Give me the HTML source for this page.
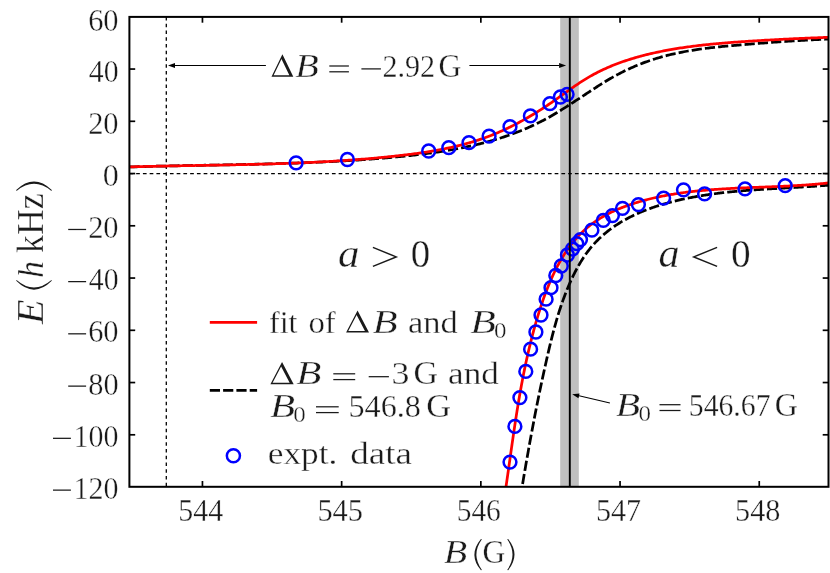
<!DOCTYPE html>
<html><head><meta charset="utf-8"><title>Feshbach resonance binding energy</title>
<style>
html,body{margin:0;padding:0;background:#fff;}
body{width:830px;height:573px;overflow:hidden;font-family:"Liberation Serif",serif;}
svg{display:block;font-family:"Liberation Serif",serif;}
</style></head><body>
<svg width="830" height="573" viewBox="0 0 830 573">
<rect x="0" y="0" width="830" height="573" fill="#ffffff"/>
<defs><clipPath id="cp"><rect x="129.40" y="16.90" width="699.10" height="469.90"/></clipPath></defs>
<rect x="560.2" y="16.90" width="18.6" height="469.90" fill="#c0c0c0"/>
<line x1="129.40" y1="173.6" x2="828.50" y2="173.6" stroke="#000" stroke-width="1.3" stroke-dasharray="3.7,3.05"/>
<line x1="166.3" y1="16.90" x2="166.3" y2="486.80" stroke="#000" stroke-width="1.3" stroke-dasharray="3.7,3.05"/>
<g clip-path="url(#cp)" fill="none" stroke-linejoin="round">
<path d="M129.47,166.98 L130.91,166.93 L132.35,166.89 L133.80,166.84 L135.24,166.80 L136.68,166.76 L138.13,166.71 L139.57,166.67 L141.01,166.63 L142.46,166.59 L143.90,166.55 L145.34,166.51 L146.79,166.47 L148.23,166.43 L149.67,166.39 L151.12,166.36 L152.56,166.32 L154.01,166.28 L155.45,166.25 L156.90,166.21 L158.34,166.18 L159.78,166.14 L161.23,166.11 L162.67,166.08 L164.12,166.04 L165.57,166.01 L167.01,165.98 L168.46,165.95 L169.90,165.91 L171.35,165.88 L172.79,165.85 L174.24,165.82 L175.68,165.79 L177.13,165.76 L178.58,165.73 L180.02,165.70 L181.47,165.67 L182.91,165.65 L184.36,165.62 L185.81,165.59 L187.25,165.56 L188.70,165.53 L190.15,165.51 L191.59,165.48 L193.04,165.45 L194.49,165.42 L195.93,165.40 L197.38,165.37 L198.83,165.34 L200.28,165.32 L201.72,165.29 L203.17,165.26 L204.62,165.24 L206.07,165.21 L207.51,165.18 L208.96,165.16 L210.41,165.13 L211.86,165.10 L213.30,165.08 L214.75,165.05 L216.20,165.02 L217.65,165.00 L219.10,164.97 L220.54,164.94 L221.99,164.92 L223.44,164.89 L224.89,164.86 L226.34,164.83 L227.79,164.81 L229.23,164.78 L230.68,164.75 L232.13,164.72 L233.58,164.69 L235.03,164.67 L236.48,164.64 L237.92,164.61 L239.37,164.58 L240.82,164.55 L242.27,164.52 L243.72,164.49 L245.17,164.46 L246.62,164.43 L248.07,164.40 L249.52,164.36 L250.96,164.33 L252.41,164.30 L253.86,164.27 L255.31,164.23 L256.76,164.20 L258.21,164.17 L259.66,164.13 L261.11,164.10 L262.56,164.06 L264.01,164.03 L265.45,163.99 L266.90,163.95 L268.35,163.92 L269.80,163.88 L271.25,163.84 L272.70,163.80 L274.15,163.76 L275.60,163.72 L277.05,163.68 L278.50,163.64 L279.95,163.60 L281.40,163.55 L282.84,163.51 L284.29,163.47 L285.74,163.42 L287.19,163.37 L288.64,163.33 L290.09,163.28 L291.54,163.23 L292.99,163.19 L294.44,163.14 L295.89,163.09 L297.34,163.04 L298.78,162.98 L300.23,162.93 L301.68,162.88 L303.13,162.82 L304.58,162.77 L306.03,162.71 L307.48,162.66 L308.93,162.60 L310.38,162.54 L311.83,162.48 L313.27,162.42 L314.72,162.36 L316.17,162.30 L317.62,162.23 L319.07,162.17 L320.52,162.10 L321.97,162.04 L323.42,161.97 L324.86,161.90 L326.31,161.83 L327.76,161.76 L329.21,161.69 L330.66,161.62 L332.11,161.54 L333.55,161.47 L335.00,161.39 L336.45,161.31 L337.90,161.24 L339.35,161.16 L340.80,161.08 L342.24,160.99 L343.69,160.91 L345.14,160.83 L346.59,160.74 L348.04,160.65 L349.48,160.56 L350.93,160.47 L352.38,160.38 L353.83,160.29 L355.27,160.20 L356.72,160.10 L358.17,160.01 L359.62,159.91 L361.06,159.81 L362.51,159.71 L363.96,159.61 L365.40,159.51 L366.85,159.40 L368.30,159.30 L369.74,159.19 L371.19,159.08 L372.64,158.97 L374.08,158.86 L375.53,158.74 L376.98,158.63 L378.42,158.51 L379.87,158.39 L381.32,158.27 L382.76,158.15 L384.21,158.03 L385.65,157.91 L387.10,157.78 L388.55,157.65 L389.99,157.52 L391.44,157.39 L392.88,157.26 L394.33,157.12 L395.77,156.99 L397.22,156.85 L398.66,156.71 L400.11,156.57 L401.55,156.43 L403.00,156.28 L404.44,156.14 L405.88,155.99 L407.33,155.83 L408.77,155.68 L410.21,155.53 L411.66,155.37 L413.10,155.21 L414.54,155.04 L415.98,154.88 L417.42,154.71 L418.86,154.54 L420.30,154.37 L421.74,154.19 L423.18,154.01 L424.62,153.83 L426.06,153.64 L427.49,153.46 L428.93,153.26 L430.37,153.07 L431.80,152.87 L433.24,152.67 L434.67,152.47 L436.10,152.26 L437.53,152.05 L438.96,151.84 L440.39,151.62 L441.82,151.40 L443.25,151.17 L444.68,150.94 L446.10,150.71 L447.53,150.47 L448.95,150.23 L450.38,149.99 L451.80,149.74 L453.22,149.48 L454.64,149.23 L456.06,148.96 L457.47,148.70 L458.89,148.43 L460.30,148.15 L461.72,147.87 L463.13,147.59 L464.54,147.30 L465.95,147.01 L467.36,146.71 L468.76,146.41 L470.17,146.10 L471.57,145.79 L472.97,145.47 L474.37,145.14 L475.77,144.82 L477.17,144.48 L478.57,144.14 L479.96,143.80 L481.35,143.45 L482.74,143.09 L484.13,142.73 L485.52,142.37 L486.91,142.00 L488.29,141.62 L489.67,141.23 L491.05,140.85 L492.43,140.45 L493.81,140.05 L495.18,139.64 L496.55,139.23 L497.92,138.81 L499.29,138.38 L500.66,137.95 L502.02,137.51 L503.39,137.07 L504.75,136.62 L506.10,136.16 L507.46,135.69 L508.81,135.22 L510.16,134.74 L511.51,134.26 L512.86,133.77 L514.21,133.27 L515.55,132.76 L516.89,132.25 L518.23,131.73 L519.56,131.20 L520.89,130.67 L522.22,130.13 L523.55,129.58 L524.88,129.02 L526.20,128.46 L527.52,127.89 L528.84,127.31 L530.15,126.72 L531.47,126.13 L532.78,125.53 L534.08,124.92 L535.39,124.30 L536.69,123.67 L537.99,123.04 L539.28,122.39 L540.58,121.74 L541.87,121.09 L543.16,120.42 L544.44,119.74 L545.72,119.06 L547.00,118.37 L548.28,117.67 L549.55,116.96 L550.82,116.24 L552.09,115.51 L553.35,114.77 L554.61,114.03 L555.87,113.28 L557.12,112.53 L558.38,111.76 L559.63,110.99 L560.88,110.22 L562.12,109.44 L563.37,108.66 L564.61,107.87 L565.85,107.09 L567.09,106.29 L568.33,105.50 L569.57,104.71 L570.80,103.91 L572.04,103.11 L573.27,102.31 L574.50,101.51 L575.73,100.71 L576.96,99.91 L578.19,99.11 L579.42,98.31 L580.65,97.50 L581.88,96.69 L583.11,95.89 L584.34,95.08 L585.57,94.27 L586.80,93.46 L588.03,92.64 L589.26,91.83 L590.49,91.02 L591.72,90.21 L592.96,89.40 L594.19,88.59 L595.43,87.79 L596.66,86.99 L597.90,86.19 L599.14,85.40 L600.38,84.61 L601.62,83.82 L602.87,83.05 L604.11,82.28 L605.36,81.51 L606.61,80.76 L607.86,80.01 L609.12,79.27 L610.37,78.54 L611.63,77.82 L612.90,77.11 L614.16,76.41 L615.43,75.71 L616.70,75.03 L617.97,74.35 L619.25,73.68 L620.52,73.02 L621.80,72.37 L623.09,71.73 L624.37,71.10 L625.66,70.47 L626.95,69.86 L628.25,69.25 L629.54,68.65 L630.84,68.06 L632.14,67.48 L633.45,66.91 L634.76,66.35 L636.07,65.79 L637.38,65.25 L638.70,64.71 L640.02,64.18 L641.34,63.66 L642.66,63.15 L643.99,62.65 L645.32,62.16 L646.66,61.67 L648.00,61.20 L649.34,60.73 L650.68,60.27 L652.03,59.82 L653.38,59.38 L654.73,58.95 L656.09,58.53 L657.45,58.11 L658.81,57.71 L660.18,57.31 L661.55,56.92 L662.92,56.54 L664.30,56.17 L665.68,55.81 L667.06,55.45 L668.44,55.11 L669.83,54.77 L671.22,54.43 L672.62,54.11 L674.01,53.79 L675.41,53.48 L676.81,53.18 L678.22,52.89 L679.63,52.60 L681.04,52.32 L682.45,52.04 L683.86,51.77 L685.28,51.51 L686.70,51.26 L688.12,51.01 L689.54,50.76 L690.97,50.52 L692.39,50.29 L693.82,50.06 L695.25,49.84 L696.69,49.63 L698.12,49.41 L699.56,49.21 L701.00,49.01 L702.44,48.81 L703.88,48.62 L705.32,48.43 L706.77,48.25 L708.21,48.07 L709.66,47.89 L711.11,47.72 L712.56,47.55 L714.01,47.39 L715.46,47.23 L716.91,47.07 L718.37,46.91 L719.82,46.76 L721.28,46.61 L722.73,46.47 L724.19,46.33 L725.65,46.18 L727.11,46.05 L728.57,45.91 L730.03,45.78 L731.49,45.64 L732.95,45.51 L734.41,45.39 L735.87,45.26 L737.33,45.13 L738.80,45.01 L740.26,44.89 L741.72,44.76 L743.18,44.64 L744.65,44.52 L746.11,44.40 L747.57,44.28 L749.03,44.16 L750.49,44.05 L751.96,43.93 L753.42,43.81 L754.88,43.70 L756.34,43.58 L757.80,43.46 L759.26,43.35 L760.72,43.24 L762.18,43.12 L763.64,43.01 L765.10,42.90 L766.56,42.79 L768.01,42.68 L769.47,42.57 L770.93,42.46 L772.38,42.36 L773.84,42.25 L775.29,42.15 L776.74,42.04 L778.20,41.94 L779.65,41.84 L781.10,41.73 L782.55,41.63 L784.00,41.54 L785.45,41.44 L786.90,41.34 L788.34,41.25 L789.79,41.15 L791.23,41.06 L792.68,40.97 L794.12,40.88 L795.56,40.79 L797.00,40.70 L798.44,40.61 L799.88,40.53 L801.31,40.44 L802.75,40.36 L804.18,40.28 L805.62,40.20 L807.05,40.12 L808.48,40.04 L809.90,39.97 L811.33,39.89 L812.76,39.82 L814.18,39.75 L815.60,39.68 L817.02,39.61 L818.44,39.55 L819.86,39.48 L821.28,39.42 L822.69,39.36 L824.10,39.30 L825.51,39.24 L826.92,39.18 L828.33,39.13" stroke="#000" stroke-width="2.75" stroke-dasharray="10.2,3.1"/>
<path d="M520.42,497.10 L520.58,496.07 L520.75,495.04 L520.92,494.01 L521.09,492.98 L521.26,491.95 L521.43,490.92 L521.60,489.89 L521.77,488.87 L521.95,487.84 L522.12,486.81 L522.29,485.79 L522.46,484.76 L522.63,483.74 L522.80,482.71 L522.97,481.69 L523.15,480.67 L523.32,479.64 L523.49,478.62 L523.67,477.60 L523.84,476.58 L524.01,475.55 L524.19,474.53 L524.36,473.51 L524.53,472.49 L524.71,471.47 L524.88,470.45 L525.06,469.43 L525.23,468.41 L525.41,467.40 L525.58,466.38 L525.76,465.36 L525.94,464.34 L526.11,463.33 L526.29,462.31 L526.47,461.29 L526.65,460.28 L526.82,459.26 L527.00,458.25 L527.18,457.23 L527.36,456.22 L527.54,455.20 L527.72,454.19 L527.90,453.17 L528.08,452.16 L528.26,451.15 L528.44,450.13 L528.62,449.12 L528.80,448.11 L528.98,447.10 L529.17,446.09 L529.35,445.07 L529.53,444.06 L529.71,443.05 L529.90,442.04 L530.08,441.03 L530.27,440.02 L530.45,439.01 L530.64,438.00 L530.82,436.99 L531.01,435.98 L531.19,434.97 L531.38,433.96 L531.57,432.96 L531.76,431.95 L531.94,430.94 L532.13,429.93 L532.32,428.92 L532.51,427.92 L532.70,426.91 L532.89,425.90 L533.08,424.90 L533.27,423.89 L533.46,422.88 L533.66,421.88 L533.85,420.87 L534.04,419.87 L534.23,418.86 L534.43,417.85 L534.62,416.85 L534.82,415.84 L535.01,414.84 L535.21,413.83 L535.40,412.83 L535.60,411.82 L535.80,410.82 L535.99,409.82 L536.19,408.81 L536.39,407.81 L536.59,406.80 L536.79,405.80 L536.99,404.80 L537.19,403.79 L537.39,402.79 L537.59,401.79 L537.80,400.78 L538.00,399.78 L538.20,398.78 L538.41,397.77 L538.61,396.77 L538.82,395.77 L539.02,394.77 L539.23,393.76 L539.43,392.76 L539.64,391.76 L539.85,390.75 L540.06,389.75 L540.27,388.75 L540.48,387.75 L540.69,386.75 L540.90,385.74 L541.11,384.74 L541.32,383.74 L541.53,382.74 L541.75,381.73 L541.96,380.73 L542.18,379.73 L542.39,378.73 L542.61,377.73 L542.82,376.72 L543.04,375.72 L543.26,374.72 L543.48,373.72 L543.69,372.72 L543.91,371.71 L544.13,370.71 L544.36,369.71 L544.58,368.71 L544.80,367.70 L545.02,366.70 L545.25,365.70 L545.47,364.70 L545.69,363.69 L545.92,362.69 L546.15,361.69 L546.37,360.69 L546.60,359.68 L546.83,358.68 L547.06,357.68 L547.29,356.68 L547.52,355.67 L547.75,354.67 L547.98,353.67 L548.21,352.66 L548.45,351.66 L548.68,350.66 L548.92,349.65 L549.15,348.65 L549.39,347.65 L549.63,346.64 L549.87,345.64 L550.11,344.64 L550.36,343.64 L550.60,342.63 L550.85,341.63 L551.09,340.63 L551.34,339.63 L551.59,338.62 L551.84,337.62 L552.10,336.62 L552.35,335.62 L552.61,334.62 L552.87,333.62 L553.13,332.62 L553.39,331.62 L553.66,330.62 L553.92,329.62 L554.19,328.62 L554.46,327.62 L554.73,326.62 L555.01,325.62 L555.29,324.62 L555.57,323.63 L555.85,322.63 L556.13,321.63 L556.42,320.64 L556.71,319.64 L557.00,318.65 L557.30,317.65 L557.60,316.66 L557.90,315.67 L558.20,314.68 L558.51,313.68 L558.82,312.69 L559.13,311.70 L559.44,310.71 L559.76,309.72 L560.08,308.74 L560.41,307.75 L560.74,306.76 L561.07,305.77 L561.40,304.79 L561.74,303.80 L562.08,302.82 L562.43,301.84 L562.77,300.85 L563.13,299.87 L563.48,298.89 L563.84,297.91 L564.20,296.93 L564.57,295.96 L564.94,294.98 L565.31,294.00 L565.69,293.03 L566.08,292.05 L566.46,291.08 L566.85,290.11 L567.25,289.14 L567.65,288.17 L568.05,287.20 L568.46,286.23 L568.87,285.27 L569.29,284.30 L569.71,283.34 L570.13,282.37 L570.56,281.41 L571.00,280.46 L571.43,279.50 L571.88,278.54 L572.33,277.59 L572.78,276.64 L573.24,275.70 L573.70,274.75 L574.17,273.81 L574.64,272.87 L575.12,271.94 L575.61,271.01 L576.10,270.08 L576.59,269.16 L577.09,268.24 L577.59,267.32 L578.10,266.41 L578.62,265.50 L579.14,264.60 L579.67,263.70 L580.20,262.80 L580.74,261.91 L581.28,261.03 L581.83,260.15 L582.38,259.27 L582.95,258.40 L583.51,257.54 L584.09,256.68 L584.66,255.83 L585.25,254.99 L585.84,254.15 L586.44,253.31 L587.04,252.48 L587.65,251.66 L588.27,250.85 L588.89,250.04 L589.52,249.24 L590.15,248.45 L590.80,247.66 L591.45,246.88 L592.10,246.11 L592.76,245.35 L593.43,244.59 L594.10,243.84 L594.79,243.10 L595.47,242.37 L596.17,241.64 L596.87,240.92 L597.57,240.21 L598.28,239.50 L599.00,238.80 L599.72,238.11 L600.45,237.43 L601.19,236.75 L601.93,236.08 L602.68,235.41 L603.43,234.76 L604.19,234.11 L604.95,233.46 L605.72,232.83 L606.50,232.20 L607.28,231.57 L608.06,230.95 L608.85,230.34 L609.65,229.74 L610.45,229.14 L611.25,228.55 L612.06,227.96 L612.88,227.39 L613.70,226.81 L614.52,226.25 L615.35,225.69 L616.19,225.13 L617.03,224.58 L617.87,224.04 L618.72,223.51 L619.57,222.98 L620.43,222.45 L621.29,221.94 L622.16,221.42 L623.03,220.92 L623.90,220.42 L624.78,219.92 L625.66,219.43 L626.55,218.95 L627.44,218.47 L628.33,218.00 L629.23,217.53 L630.13,217.07 L631.04,216.62 L631.95,216.17 L632.86,215.72 L633.78,215.28 L634.70,214.85 L635.62,214.42 L636.54,214.00 L637.47,213.58 L638.41,213.16 L639.34,212.76 L640.28,212.35 L641.22,211.95 L642.17,211.56 L643.12,211.17 L644.07,210.79 L645.02,210.41 L645.98,210.04 L646.94,209.67 L647.90,209.31 L648.86,208.95 L649.83,208.59 L650.80,208.24 L651.77,207.90 L652.74,207.55 L653.72,207.22 L654.70,206.89 L655.68,206.56 L656.66,206.24 L657.65,205.92 L658.63,205.60 L659.62,205.29 L660.61,204.99 L661.60,204.68 L662.60,204.39 L663.59,204.09 L664.59,203.80 L665.59,203.52 L666.59,203.23 L667.59,202.96 L668.59,202.68 L669.60,202.41 L670.60,202.15 L671.61,201.88 L672.62,201.62 L673.63,201.37 L674.64,201.12 L675.65,200.87 L676.66,200.63 L677.67,200.39 L678.69,200.15 L679.70,199.91 L680.72,199.68 L681.73,199.46 L682.75,199.23 L683.77,199.01 L684.78,198.80 L685.80,198.58 L686.82,198.37 L687.84,198.16 L688.86,197.96 L689.88,197.76 L690.90,197.56 L691.92,197.36 L692.94,197.17 L693.96,196.98 L694.98,196.79 L696.01,196.61 L697.03,196.43 L698.05,196.25 L699.08,196.08 L700.10,195.90 L701.12,195.74 L702.15,195.57 L703.17,195.40 L704.20,195.24 L705.23,195.08 L706.25,194.93 L707.28,194.77 L708.30,194.62 L709.33,194.47 L710.36,194.33 L711.39,194.18 L712.42,194.04 L713.44,193.90 L714.47,193.76 L715.50,193.63 L716.53,193.50 L717.56,193.36 L718.59,193.24 L719.62,193.11 L720.65,192.99 L721.68,192.86 L722.71,192.74 L723.74,192.63 L724.77,192.51 L725.80,192.40 L726.83,192.28 L727.86,192.17 L728.89,192.07 L729.93,191.96 L730.96,191.85 L731.99,191.75 L733.02,191.65 L734.05,191.55 L735.09,191.45 L736.12,191.36 L737.15,191.26 L738.18,191.17 L739.22,191.08 L740.25,190.99 L741.28,190.90 L742.31,190.81 L743.35,190.72 L744.38,190.64 L745.41,190.56 L746.44,190.47 L747.48,190.39 L748.51,190.31 L749.54,190.24 L750.57,190.16 L751.61,190.08 L752.64,190.01 L753.67,189.93 L754.70,189.86 L755.74,189.79 L756.77,189.72 L757.80,189.65 L758.83,189.58 L759.86,189.51 L760.90,189.44 L761.93,189.38 L762.96,189.31 L763.99,189.25 L765.02,189.18 L766.05,189.12 L767.08,189.05 L768.11,188.99 L769.14,188.93 L770.17,188.87 L771.20,188.81 L772.23,188.75 L773.26,188.69 L774.29,188.63 L775.32,188.57 L776.35,188.51 L777.38,188.45 L778.41,188.39 L779.44,188.33 L780.46,188.28 L781.49,188.22 L782.52,188.16 L783.55,188.10 L784.57,188.05 L785.60,187.99 L786.63,187.93 L787.65,187.87 L788.68,187.82 L789.70,187.76 L790.73,187.70 L791.75,187.64 L792.77,187.59 L793.80,187.53 L794.82,187.47 L795.84,187.41 L796.86,187.35 L797.89,187.29 L798.91,187.23 L799.93,187.17 L800.95,187.11 L801.97,187.05 L802.99,186.99 L804.01,186.93 L805.03,186.86 L806.04,186.80 L807.06,186.74 L808.08,186.67 L809.10,186.61 L810.11,186.54 L811.13,186.47 L812.14,186.41 L813.16,186.34 L814.17,186.27 L815.18,186.20 L816.20,186.13 L817.21,186.05 L818.22,185.98 L819.23,185.91 L820.24,185.83 L821.25,185.75 L822.26,185.68 L823.27,185.60 L824.27,185.52 L825.28,185.44 L826.29,185.35 L827.29,185.27 L828.30,185.19" stroke="#000" stroke-width="2.75" stroke-dasharray="10.2,3.1"/>
<path d="M129.60,166.90 L131.03,166.86 L132.46,166.82 L133.89,166.78 L135.33,166.74 L136.76,166.70 L138.20,166.67 L139.63,166.63 L141.07,166.59 L142.50,166.56 L143.94,166.52 L145.37,166.49 L146.81,166.45 L148.25,166.42 L149.69,166.39 L151.12,166.35 L152.56,166.32 L154.00,166.29 L155.44,166.26 L156.88,166.23 L158.32,166.19 L159.76,166.16 L161.20,166.13 L162.64,166.10 L164.09,166.08 L165.53,166.05 L166.97,166.02 L168.41,165.99 L169.86,165.96 L171.30,165.93 L172.75,165.91 L174.19,165.88 L175.63,165.85 L177.08,165.83 L178.52,165.80 L179.97,165.77 L181.42,165.75 L182.86,165.72 L184.31,165.69 L185.76,165.67 L187.20,165.64 L188.65,165.62 L190.10,165.59 L191.55,165.57 L193.00,165.54 L194.45,165.52 L195.89,165.49 L197.34,165.47 L198.79,165.44 L200.24,165.42 L201.69,165.39 L203.14,165.37 L204.60,165.34 L206.05,165.32 L207.50,165.29 L208.95,165.27 L210.40,165.24 L211.85,165.21 L213.30,165.19 L214.76,165.16 L216.21,165.14 L217.66,165.11 L219.11,165.08 L220.57,165.06 L222.02,165.03 L223.47,165.00 L224.93,164.98 L226.38,164.95 L227.83,164.92 L229.29,164.89 L230.74,164.86 L232.20,164.83 L233.65,164.80 L235.11,164.78 L236.56,164.75 L238.02,164.71 L239.47,164.68 L240.93,164.65 L242.38,164.62 L243.84,164.59 L245.29,164.56 L246.75,164.52 L248.20,164.49 L249.66,164.46 L251.12,164.42 L252.57,164.39 L254.03,164.35 L255.48,164.32 L256.94,164.28 L258.40,164.24 L259.85,164.21 L261.31,164.17 L262.76,164.13 L264.22,164.09 L265.68,164.05 L267.13,164.01 L268.59,163.97 L270.05,163.92 L271.50,163.88 L272.96,163.84 L274.42,163.79 L275.87,163.75 L277.33,163.70 L278.79,163.65 L280.24,163.61 L281.70,163.56 L283.16,163.51 L284.61,163.46 L286.07,163.41 L287.52,163.36 L288.98,163.30 L290.44,163.25 L291.89,163.20 L293.35,163.14 L294.80,163.08 L296.26,163.03 L297.72,162.97 L299.17,162.91 L300.63,162.85 L302.08,162.79 L303.54,162.73 L304.99,162.66 L306.45,162.60 L307.91,162.53 L309.36,162.47 L310.82,162.40 L312.27,162.33 L313.72,162.26 L315.18,162.19 L316.63,162.12 L318.09,162.05 L319.54,161.97 L321.00,161.90 L322.45,161.82 L323.90,161.74 L325.36,161.66 L326.81,161.58 L328.26,161.50 L329.72,161.42 L331.17,161.33 L332.62,161.25 L334.07,161.16 L335.53,161.07 L336.98,160.98 L338.43,160.89 L339.88,160.80 L341.33,160.70 L342.78,160.61 L344.23,160.51 L345.68,160.41 L347.13,160.31 L348.58,160.21 L350.03,160.11 L351.48,160.01 L352.93,159.90 L354.38,159.79 L355.83,159.69 L357.28,159.58 L358.73,159.46 L360.17,159.35 L361.62,159.24 L363.07,159.12 L364.51,159.00 L365.96,158.88 L367.41,158.76 L368.85,158.64 L370.30,158.51 L371.74,158.39 L373.19,158.26 L374.63,158.13 L376.08,158.00 L377.52,157.86 L378.96,157.73 L380.41,157.59 L381.85,157.45 L383.29,157.31 L384.73,157.17 L386.18,157.03 L387.62,156.88 L389.06,156.73 L390.50,156.58 L391.94,156.43 L393.38,156.28 L394.82,156.12 L396.26,155.96 L397.69,155.80 L399.13,155.64 L400.57,155.48 L402.01,155.31 L403.44,155.14 L404.88,154.97 L406.31,154.80 L407.75,154.62 L409.18,154.44 L410.61,154.26 L412.05,154.08 L413.48,153.89 L414.91,153.70 L416.34,153.50 L417.77,153.31 L419.20,153.11 L420.63,152.90 L422.05,152.69 L423.48,152.48 L424.90,152.26 L426.33,152.04 L427.75,151.82 L429.17,151.59 L430.59,151.35 L432.01,151.12 L433.43,150.87 L434.85,150.63 L436.26,150.38 L437.68,150.12 L439.09,149.86 L440.51,149.59 L441.92,149.32 L443.33,149.04 L444.74,148.76 L446.14,148.47 L447.55,148.18 L448.95,147.88 L450.36,147.57 L451.76,147.26 L453.16,146.94 L454.56,146.62 L455.95,146.29 L457.35,145.95 L458.74,145.61 L460.14,145.26 L461.53,144.91 L462.92,144.55 L464.30,144.18 L465.69,143.80 L467.07,143.42 L468.45,143.03 L469.83,142.63 L471.21,142.22 L472.59,141.81 L473.96,141.39 L475.34,140.96 L476.71,140.53 L478.07,140.08 L479.44,139.63 L480.81,139.17 L482.17,138.70 L483.53,138.23 L484.89,137.74 L486.24,137.25 L487.60,136.75 L488.95,136.24 L490.30,135.72 L491.64,135.19 L492.99,134.65 L494.33,134.11 L495.67,133.56 L497.01,132.99 L498.34,132.42 L499.68,131.85 L501.01,131.26 L502.34,130.67 L503.66,130.06 L504.98,129.45 L506.30,128.84 L507.62,128.21 L508.94,127.58 L510.25,126.94 L511.56,126.29 L512.87,125.64 L514.17,124.98 L515.47,124.31 L516.77,123.63 L518.07,122.95 L519.36,122.26 L520.65,121.57 L521.94,120.86 L523.22,120.16 L524.50,119.44 L525.78,118.72 L527.06,117.99 L528.33,117.26 L529.60,116.52 L530.87,115.77 L532.13,115.02 L533.39,114.26 L534.65,113.50 L535.90,112.73 L537.15,111.96 L538.40,111.18 L539.64,110.40 L540.88,109.61 L542.12,108.81 L543.36,108.01 L544.59,107.21 L545.81,106.40 L547.04,105.58 L548.26,104.76 L549.47,103.94 L550.69,103.11 L551.90,102.28 L553.10,101.45 L554.31,100.61 L555.51,99.76 L556.71,98.92 L557.91,98.07 L559.10,97.22 L560.29,96.38 L561.49,95.52 L562.68,94.67 L563.87,93.82 L565.06,92.97 L566.25,92.12 L567.44,91.27 L568.64,90.43 L569.83,89.58 L571.02,88.74 L572.22,87.90 L573.41,87.07 L574.61,86.24 L575.81,85.42 L577.02,84.60 L578.22,83.79 L579.43,82.98 L580.64,82.19 L581.86,81.40 L583.08,80.62 L584.30,79.85 L585.53,79.09 L586.77,78.34 L588.00,77.60 L589.25,76.88 L590.50,76.16 L591.75,75.46 L593.01,74.76 L594.27,74.08 L595.54,73.41 L596.81,72.75 L598.09,72.10 L599.37,71.46 L600.65,70.82 L601.94,70.20 L603.24,69.59 L604.53,68.99 L605.84,68.40 L607.14,67.82 L608.45,67.25 L609.77,66.69 L611.09,66.14 L612.41,65.59 L613.73,65.06 L615.06,64.54 L616.40,64.02 L617.73,63.51 L619.07,63.01 L620.42,62.52 L621.76,62.04 L623.11,61.57 L624.47,61.10 L625.82,60.65 L627.18,60.20 L628.55,59.76 L629.91,59.32 L631.28,58.90 L632.65,58.48 L634.03,58.07 L635.40,57.66 L636.78,57.27 L638.17,56.88 L639.55,56.49 L640.94,56.12 L642.33,55.75 L643.72,55.39 L645.11,55.03 L646.51,54.68 L647.91,54.34 L649.31,54.00 L650.71,53.67 L652.11,53.35 L653.52,53.03 L654.93,52.72 L656.34,52.41 L657.75,52.11 L659.16,51.81 L660.58,51.52 L662.00,51.24 L663.41,50.96 L664.83,50.68 L666.26,50.41 L667.68,50.15 L669.10,49.89 L670.53,49.63 L671.96,49.38 L673.39,49.14 L674.82,48.90 L676.25,48.66 L677.68,48.43 L679.12,48.21 L680.55,47.98 L681.99,47.77 L683.43,47.55 L684.87,47.35 L686.31,47.14 L687.75,46.94 L689.20,46.74 L690.64,46.55 L692.08,46.36 L693.53,46.18 L694.98,46.00 L696.43,45.82 L697.88,45.64 L699.33,45.47 L700.78,45.31 L702.23,45.14 L703.68,44.98 L705.13,44.83 L706.59,44.67 L708.04,44.52 L709.50,44.37 L710.95,44.23 L712.41,44.08 L713.87,43.94 L715.33,43.81 L716.78,43.67 L718.24,43.54 L719.70,43.41 L721.16,43.28 L722.62,43.16 L724.08,43.04 L725.54,42.92 L727.00,42.80 L728.47,42.68 L729.93,42.57 L731.39,42.46 L732.85,42.35 L734.31,42.24 L735.78,42.13 L737.24,42.02 L738.70,41.92 L740.16,41.82 L741.63,41.72 L743.09,41.62 L744.55,41.52 L746.01,41.42 L747.48,41.32 L748.94,41.23 L750.40,41.13 L751.86,41.04 L753.32,40.95 L754.79,40.86 L756.25,40.76 L757.71,40.68 L759.17,40.59 L760.63,40.50 L762.09,40.41 L763.55,40.33 L765.01,40.24 L766.46,40.16 L767.92,40.08 L769.38,40.00 L770.83,39.92 L772.29,39.84 L773.75,39.76 L775.20,39.68 L776.65,39.60 L778.11,39.53 L779.56,39.45 L781.01,39.38 L782.46,39.30 L783.91,39.23 L785.36,39.16 L786.81,39.09 L788.25,39.02 L789.70,38.95 L791.14,38.88 L792.59,38.81 L794.03,38.74 L795.47,38.67 L796.91,38.61 L798.35,38.54 L799.79,38.48 L801.23,38.42 L802.66,38.35 L804.10,38.29 L805.53,38.23 L806.96,38.17 L808.39,38.11 L809.82,38.05 L811.25,37.99 L812.67,37.93 L814.10,37.87 L815.52,37.82 L816.94,37.76 L818.36,37.70 L819.78,37.65 L821.19,37.59 L822.61,37.54 L824.02,37.48 L825.43,37.43 L826.84,37.38 L828.25,37.33" stroke="#ff0000" stroke-width="2.75"/>
<path d="M504.46,497.13 L504.62,496.05 L504.78,494.97 L504.94,493.90 L505.10,492.82 L505.26,491.75 L505.42,490.67 L505.58,489.60 L505.74,488.52 L505.89,487.45 L506.05,486.37 L506.21,485.30 L506.36,484.23 L506.52,483.15 L506.67,482.08 L506.83,481.01 L506.98,479.93 L507.14,478.86 L507.29,477.79 L507.44,476.72 L507.60,475.65 L507.75,474.58 L507.90,473.51 L508.05,472.44 L508.21,471.37 L508.36,470.30 L508.51,469.23 L508.66,468.16 L508.81,467.09 L508.96,466.02 L509.11,464.96 L509.26,463.89 L509.41,462.82 L509.56,461.75 L509.72,460.69 L509.87,459.62 L510.02,458.55 L510.17,457.49 L510.32,456.42 L510.47,455.36 L510.62,454.29 L510.77,453.23 L510.92,452.16 L511.07,451.10 L511.22,450.03 L511.37,448.97 L511.52,447.90 L511.68,446.84 L511.83,445.78 L511.98,444.71 L512.13,443.65 L512.28,442.59 L512.44,441.53 L512.59,440.47 L512.74,439.40 L512.90,438.34 L513.05,437.28 L513.20,436.22 L513.36,435.16 L513.51,434.10 L513.67,433.04 L513.83,431.98 L513.98,430.92 L514.14,429.86 L514.30,428.80 L514.45,427.75 L514.61,426.69 L514.77,425.63 L514.93,424.57 L515.09,423.51 L515.25,422.46 L515.41,421.40 L515.57,420.34 L515.74,419.28 L515.90,418.23 L516.06,417.17 L516.23,416.12 L516.39,415.06 L516.56,414.00 L516.72,412.95 L516.89,411.89 L517.06,410.84 L517.23,409.78 L517.40,408.73 L517.57,407.68 L517.74,406.62 L517.91,405.57 L518.09,404.52 L518.26,403.46 L518.44,402.41 L518.61,401.36 L518.79,400.30 L518.97,399.25 L519.15,398.20 L519.33,397.15 L519.51,396.10 L519.69,395.04 L519.87,393.99 L520.06,392.94 L520.24,391.89 L520.43,390.84 L520.61,389.79 L520.80,388.74 L520.99,387.69 L521.18,386.64 L521.38,385.59 L521.57,384.54 L521.76,383.49 L521.96,382.44 L522.16,381.39 L522.36,380.35 L522.56,379.30 L522.76,378.25 L522.96,377.20 L523.16,376.15 L523.37,375.11 L523.58,374.06 L523.78,373.01 L523.99,371.96 L524.21,370.92 L524.42,369.87 L524.63,368.82 L524.85,367.78 L525.06,366.73 L525.28,365.69 L525.50,364.64 L525.73,363.60 L525.95,362.55 L526.17,361.51 L526.40,360.46 L526.63,359.42 L526.86,358.37 L527.09,357.33 L527.32,356.28 L527.56,355.24 L527.80,354.19 L528.03,353.15 L528.27,352.11 L528.52,351.06 L528.76,350.02 L529.01,348.98 L529.25,347.94 L529.50,346.89 L529.76,345.85 L530.01,344.81 L530.26,343.77 L530.52,342.72 L530.78,341.68 L531.04,340.64 L531.30,339.60 L531.57,338.56 L531.84,337.52 L532.11,336.48 L532.38,335.43 L532.65,334.39 L532.93,333.35 L533.20,332.31 L533.48,331.27 L533.77,330.23 L534.05,329.19 L534.34,328.15 L534.62,327.11 L534.91,326.07 L535.21,325.03 L535.50,324.00 L535.80,322.96 L536.10,321.92 L536.40,320.88 L536.71,319.84 L537.01,318.80 L537.32,317.76 L537.63,316.72 L537.95,315.69 L538.26,314.65 L538.58,313.61 L538.90,312.57 L539.23,311.54 L539.55,310.50 L539.88,309.46 L540.22,308.43 L540.55,307.39 L540.89,306.36 L541.23,305.32 L541.57,304.29 L541.92,303.26 L542.27,302.22 L542.62,301.19 L542.98,300.16 L543.34,299.14 L543.70,298.11 L544.07,297.08 L544.43,296.06 L544.81,295.03 L545.18,294.01 L545.56,292.99 L545.95,291.97 L546.34,290.95 L546.73,289.94 L547.12,288.92 L547.52,287.91 L547.93,286.90 L548.33,285.89 L548.75,284.88 L549.16,283.88 L549.58,282.88 L550.01,281.88 L550.43,280.88 L550.87,279.88 L551.31,278.89 L551.75,277.90 L552.19,276.91 L552.65,275.92 L553.10,274.94 L553.56,273.96 L554.03,272.98 L554.50,272.01 L554.97,271.03 L555.45,270.06 L555.94,269.10 L556.43,268.13 L556.93,267.18 L557.43,266.22 L557.93,265.27 L558.45,264.32 L558.96,263.37 L559.49,262.43 L560.01,261.49 L560.55,260.55 L561.09,259.62 L561.63,258.69 L562.18,257.77 L562.74,256.85 L563.30,255.94 L563.87,255.03 L564.45,254.12 L565.03,253.22 L565.62,252.33 L566.21,251.44 L566.81,250.55 L567.41,249.67 L568.03,248.80 L568.65,247.93 L569.27,247.07 L569.90,246.21 L570.54,245.36 L571.19,244.51 L571.84,243.67 L572.50,242.84 L573.16,242.01 L573.83,241.20 L574.51,240.38 L575.20,239.58 L575.89,238.78 L576.59,237.98 L577.30,237.20 L578.02,236.42 L578.74,235.65 L579.47,234.89 L580.20,234.13 L580.95,233.38 L581.70,232.64 L582.46,231.91 L583.23,231.19 L584.00,230.47 L584.79,229.76 L585.58,229.06 L586.37,228.37 L587.18,227.69 L587.99,227.01 L588.80,226.34 L589.63,225.68 L590.46,225.03 L591.29,224.39 L592.14,223.76 L592.99,223.13 L593.84,222.51 L594.70,221.90 L595.57,221.30 L596.45,220.71 L597.33,220.13 L598.21,219.55 L599.10,218.98 L600.00,218.42 L600.90,217.87 L601.81,217.33 L602.72,216.80 L603.63,216.27 L604.56,215.75 L605.48,215.24 L606.41,214.74 L607.35,214.24 L608.29,213.75 L609.24,213.27 L610.19,212.80 L611.14,212.33 L612.10,211.87 L613.06,211.42 L614.02,210.97 L614.99,210.53 L615.97,210.10 L616.94,209.68 L617.92,209.26 L618.91,208.84 L619.89,208.44 L620.89,208.04 L621.88,207.64 L622.87,207.26 L623.87,206.88 L624.88,206.50 L625.88,206.13 L626.89,205.77 L627.90,205.41 L628.91,205.05 L629.92,204.71 L630.94,204.36 L631.96,204.03 L632.98,203.69 L634.00,203.37 L635.02,203.04 L636.05,202.73 L637.08,202.41 L638.11,202.11 L639.14,201.80 L640.17,201.50 L641.20,201.21 L642.23,200.92 L643.27,200.63 L644.30,200.35 L645.34,200.07 L646.38,199.80 L647.42,199.53 L648.46,199.27 L649.50,199.01 L650.55,198.75 L651.59,198.50 L652.64,198.25 L653.69,198.01 L654.73,197.77 L655.78,197.54 L656.83,197.30 L657.89,197.08 L658.94,196.85 L659.99,196.63 L661.05,196.41 L662.10,196.20 L663.16,195.99 L664.22,195.79 L665.27,195.58 L666.33,195.39 L667.39,195.19 L668.46,195.00 L669.52,194.81 L670.58,194.63 L671.65,194.44 L672.71,194.27 L673.78,194.09 L674.84,193.92 L675.91,193.75 L676.98,193.59 L678.05,193.42 L679.12,193.27 L680.19,193.11 L681.26,192.96 L682.33,192.81 L683.40,192.66 L684.47,192.51 L685.55,192.37 L686.62,192.23 L687.70,192.10 L688.77,191.97 L689.85,191.83 L690.93,191.71 L692.00,191.58 L693.08,191.46 L694.16,191.34 L695.24,191.22 L696.32,191.10 L697.40,190.99 L698.48,190.88 L699.56,190.77 L700.64,190.67 L701.73,190.56 L702.81,190.46 L703.89,190.36 L704.97,190.26 L706.06,190.17 L707.14,190.08 L708.23,189.99 L709.31,189.90 L710.39,189.81 L711.48,189.72 L712.57,189.64 L713.65,189.56 L714.74,189.48 L715.82,189.40 L716.91,189.32 L718.00,189.25 L719.08,189.17 L720.17,189.10 L721.26,189.03 L722.34,188.96 L723.43,188.90 L724.52,188.83 L725.61,188.77 L726.70,188.70 L727.78,188.64 L728.87,188.58 L729.96,188.52 L731.05,188.46 L732.13,188.41 L733.22,188.35 L734.31,188.29 L735.40,188.24 L736.49,188.19 L737.57,188.14 L738.66,188.08 L739.75,188.03 L740.84,187.98 L741.92,187.94 L743.01,187.89 L744.10,187.84 L745.18,187.79 L746.27,187.75 L747.36,187.70 L748.44,187.66 L749.53,187.61 L750.61,187.57 L751.70,187.53 L752.78,187.48 L753.87,187.44 L754.95,187.40 L756.04,187.36 L757.12,187.31 L758.20,187.27 L759.29,187.23 L760.37,187.19 L761.45,187.15 L762.53,187.11 L763.61,187.06 L764.70,187.02 L765.78,186.98 L766.86,186.94 L767.93,186.90 L769.01,186.85 L770.09,186.81 L771.17,186.77 L772.25,186.73 L773.32,186.68 L774.40,186.64 L775.47,186.60 L776.55,186.55 L777.62,186.51 L778.70,186.46 L779.77,186.41 L780.84,186.37 L781.91,186.32 L782.98,186.27 L784.05,186.22 L785.12,186.17 L786.19,186.12 L787.26,186.07 L788.32,186.02 L789.39,185.96 L790.46,185.91 L791.52,185.85 L792.58,185.79 L793.65,185.74 L794.71,185.68 L795.77,185.62 L796.83,185.56 L797.89,185.49 L798.94,185.43 L800.00,185.36 L801.06,185.30 L802.11,185.23 L803.17,185.16 L804.22,185.09 L805.27,185.01 L806.32,184.94 L807.37,184.86 L808.42,184.79 L809.47,184.71 L810.51,184.63 L811.56,184.54 L812.60,184.46 L813.65,184.37 L814.69,184.28 L815.73,184.19 L816.77,184.10 L817.81,184.01 L818.84,183.91 L819.88,183.81 L820.91,183.71 L821.95,183.61 L822.98,183.50 L824.01,183.39 L825.04,183.28 L826.06,183.17 L827.09,183.06 L828.12,182.94" stroke="#ff0000" stroke-width="2.75"/>
</g>
<g fill="none" stroke="#0000ff" stroke-width="2.5">
<circle cx="296.1" cy="162.8" r="6.4"/>
<circle cx="347.4" cy="159.5" r="6.4"/>
<circle cx="428.7" cy="151.0" r="6.4"/>
<circle cx="448.8" cy="147.7" r="6.4"/>
<circle cx="469.0" cy="142.7" r="6.4"/>
<circle cx="489.1" cy="136.1" r="6.4"/>
<circle cx="510.0" cy="126.7" r="6.4"/>
<circle cx="530.4" cy="115.9" r="6.4"/>
<circle cx="549.9" cy="103.7" r="6.4"/>
<circle cx="560.4" cy="97.0" r="6.4"/>
<circle cx="567.1" cy="94.3" r="6.4"/>
<circle cx="510.0" cy="462.1" r="6.4"/>
<circle cx="514.9" cy="426.4" r="6.4"/>
<circle cx="519.9" cy="397.6" r="6.4"/>
<circle cx="525.8" cy="371.4" r="6.4"/>
<circle cx="530.6" cy="349.2" r="6.4"/>
<circle cx="535.9" cy="332.0" r="6.4"/>
<circle cx="541.0" cy="315.0" r="6.4"/>
<circle cx="546.1" cy="299.2" r="6.4"/>
<circle cx="551.0" cy="287.7" r="6.4"/>
<circle cx="555.8" cy="275.5" r="6.4"/>
<circle cx="561.3" cy="266.0" r="6.4"/>
<circle cx="567.4" cy="255.0" r="6.4"/>
<circle cx="572.4" cy="249.2" r="6.4"/>
<circle cx="576.8" cy="243.7" r="6.4"/>
<circle cx="580.5" cy="239.6" r="6.4"/>
<circle cx="591.9" cy="230.2" r="6.4"/>
<circle cx="603.3" cy="220.4" r="6.4"/>
<circle cx="612.4" cy="215.6" r="6.4"/>
<circle cx="622.5" cy="208.4" r="6.4"/>
<circle cx="638.4" cy="204.6" r="6.4"/>
<circle cx="663.6" cy="198.1" r="6.4"/>
<circle cx="683.5" cy="189.8" r="6.4"/>
<circle cx="704.6" cy="193.9" r="6.4"/>
<circle cx="745.0" cy="188.8" r="6.4"/>
<circle cx="785.2" cy="185.7" r="6.4"/>
<circle cx="233.4" cy="455.8" r="6.55"/>
</g>
<line x1="569.8" y1="16.90" x2="569.8" y2="486.80" stroke="#000" stroke-width="1.9"/>
<rect x="129.40" y="16.90" width="699.10" height="469.90" fill="none" stroke="#000" stroke-width="2"/>
<g stroke="#000" stroke-width="1.7">
<line x1="202.45" y1="486.80" x2="202.45" y2="481.00"/>
<line x1="202.45" y1="16.90" x2="202.45" y2="22.70"/>
<line x1="341.65" y1="486.80" x2="341.65" y2="481.00"/>
<line x1="341.65" y1="16.90" x2="341.65" y2="22.70"/>
<line x1="480.85" y1="486.80" x2="480.85" y2="481.00"/>
<line x1="480.85" y1="16.90" x2="480.85" y2="22.70"/>
<line x1="620.05" y1="486.80" x2="620.05" y2="481.00"/>
<line x1="620.05" y1="16.90" x2="620.05" y2="22.70"/>
<line x1="759.25" y1="486.80" x2="759.25" y2="481.00"/>
<line x1="759.25" y1="16.90" x2="759.25" y2="22.70"/>
<line x1="129.40" y1="434.80" x2="135.20" y2="434.80"/>
<line x1="828.50" y1="434.80" x2="822.70" y2="434.80"/>
<line x1="129.40" y1="382.55" x2="135.20" y2="382.55"/>
<line x1="828.50" y1="382.55" x2="822.70" y2="382.55"/>
<line x1="129.40" y1="330.30" x2="135.20" y2="330.30"/>
<line x1="828.50" y1="330.30" x2="822.70" y2="330.30"/>
<line x1="129.40" y1="278.05" x2="135.20" y2="278.05"/>
<line x1="828.50" y1="278.05" x2="822.70" y2="278.05"/>
<line x1="129.40" y1="225.80" x2="135.20" y2="225.80"/>
<line x1="828.50" y1="225.80" x2="822.70" y2="225.80"/>
<line x1="129.40" y1="173.55" x2="135.20" y2="173.55"/>
<line x1="828.50" y1="173.55" x2="822.70" y2="173.55"/>
<line x1="129.40" y1="121.30" x2="135.20" y2="121.30"/>
<line x1="828.50" y1="121.30" x2="822.70" y2="121.30"/>
<line x1="129.40" y1="69.05" x2="135.20" y2="69.05"/>
<line x1="828.50" y1="69.05" x2="822.70" y2="69.05"/>
</g>
<line x1="209.8" y1="322.35" x2="257.1" y2="322.35" stroke="#ff0000" stroke-width="2.75"/>
<line x1="209.8" y1="390.3" x2="257.1" y2="390.3" stroke="#000" stroke-width="2.75" stroke-dasharray="10.2,3.1"/>
<line x1="265.90" y1="65.45" x2="175.00" y2="65.45" stroke="#000" stroke-width="1.05"/>
<polygon points="168.00,65.45 175.00,63.00 175.00,67.90" fill="#000"/>
<line x1="469.40" y1="65.45" x2="559.10" y2="65.45" stroke="#000" stroke-width="1.05"/>
<polygon points="566.10,65.45 559.10,67.90 559.10,63.00" fill="#000"/>
<line x1="609.90" y1="402.90" x2="579.02" y2="395.82" stroke="#000" stroke-width="1.05"/>
<polygon points="572.20,394.25 579.57,393.43 578.47,398.20" fill="#000"/>
<rect x="68.20" y="228.85" width="17.9" height="1.25" fill="#1a1a1a"/>
<rect x="68.20" y="281.00" width="17.9" height="1.25" fill="#1a1a1a"/>
<rect x="68.20" y="333.20" width="17.9" height="1.25" fill="#1a1a1a"/>
<rect x="68.20" y="385.50" width="17.9" height="1.25" fill="#1a1a1a"/>
<rect x="53.00" y="437.70" width="17.9" height="1.25" fill="#1a1a1a"/>
<rect x="53.00" y="489.50" width="17.9" height="1.25" fill="#1a1a1a"/>
<path fill-rule="evenodd" fill="#1a1a1a" d="M271.50,76.80 L282.40,54.30 L293.30,76.80 Z M273.62,75.30 L281.48,59.06 L289.35,75.30 Z"/>
<rect x="329.30" y="65.37" width="19.60" height="1.25" fill="#1a1a1a"/>
<rect x="329.30" y="71.17" width="19.60" height="1.25" fill="#1a1a1a"/>
<rect x="361.40" y="68.27" width="19.50" height="1.25" fill="#1a1a1a"/>
<polyline points="372.9,247.4 396.2,256.9 372.9,266.4" fill="none" stroke="#1a1a1a" stroke-width="1.5" stroke-linejoin="miter"/>
<polyline points="717.1,247.4 693.8,256.9 717.1,266.4" fill="none" stroke="#1a1a1a" stroke-width="1.5" stroke-linejoin="miter"/>
<path fill-rule="evenodd" fill="#1a1a1a" d="M346.10,332.60 L357.55,310.60 L369.00,332.60 Z M348.29,331.10 L356.62,315.09 L364.95,331.10 Z"/>
<path fill-rule="evenodd" fill="#1a1a1a" d="M270.40,384.20 L282.05,362.00 L293.70,384.20 Z M272.60,382.70 L281.12,366.47 L289.64,382.70 Z"/>
<rect x="333.30" y="373.18" width="21.90" height="1.25" fill="#1a1a1a"/>
<rect x="333.30" y="378.97" width="21.90" height="1.25" fill="#1a1a1a"/>
<rect x="368.70" y="376.07" width="20.20" height="1.25" fill="#1a1a1a"/>
<rect x="316.00" y="406.18" width="22.70" height="1.25" fill="#1a1a1a"/>
<rect x="316.00" y="411.97" width="22.70" height="1.25" fill="#1a1a1a"/>
<rect x="659.50" y="404.08" width="21.00" height="1.25" fill="#1a1a1a"/>
<rect x="659.50" y="409.88" width="21.00" height="1.25" fill="#1a1a1a"/>
<path d="M480.95,538.90 Q467.85,554.60 480.95,570.30 L481.90,569.95 Q470.90,554.60 481.90,539.25 Z" fill="#1a1a1a"/>
<path d="M508.15,538.90 Q520.85,554.60 508.15,570.30 L507.20,569.95 Q517.80,554.60 507.20,539.25 Z" fill="#1a1a1a"/>
<path d="M16.20,280.85 Q34.00,298.55 51.80,280.85 L51.45,279.90 Q34.00,294.90 16.55,279.90 Z" fill="#1a1a1a"/>
<path d="M16.20,189.95 Q34.00,173.05 51.80,189.95 L51.45,190.90 Q34.00,176.70 16.55,190.90 Z" fill="#1a1a1a"/>
<g opacity="0.999" stroke="#ffffff" stroke-width="0.34">
<text transform="translate(88.15,31.26) scale(0.9518,1.0000)" font-size="32.00" fill="#1a1a1a">60</text>
<text transform="translate(88.85,82.01) scale(0.9290,1.0000)" font-size="32.00" fill="#1a1a1a">40</text>
<text transform="translate(88.15,133.86) scale(0.9518,1.0000)" font-size="32.00" fill="#1a1a1a">20</text>
<text transform="translate(102.64,185.91) scale(1.0015,1.0000)" font-size="32.00" fill="#1a1a1a">0</text>
<text transform="translate(88.15,237.91) scale(0.9518,1.0000)" font-size="32.00" fill="#1a1a1a">20</text>
<text transform="translate(88.85,290.06) scale(0.9290,1.0000)" font-size="32.00" fill="#1a1a1a">40</text>
<text transform="translate(88.15,342.26) scale(0.9518,1.0000)" font-size="32.00" fill="#1a1a1a">60</text>
<text transform="translate(88.30,394.56) scale(0.9466,1.0000)" font-size="32.00" fill="#1a1a1a">80</text>
<text transform="translate(73.62,446.76) scale(0.9368,1.0000)" font-size="32.00" fill="#1a1a1a">100</text>
<text transform="translate(73.62,498.56) scale(0.9368,1.0000)" font-size="32.00" fill="#1a1a1a">120</text>
<text transform="translate(178.32,520.66) scale(0.9352,1.0000)" font-size="32.00" fill="#1a1a1a">544</text>
<text transform="translate(317.39,520.66) scale(0.9519,1.0000)" font-size="32.00" fill="#1a1a1a">545</text>
<text transform="translate(456.65,520.66) scale(0.9208,1.0000)" font-size="32.00" fill="#1a1a1a">546</text>
<text transform="translate(595.91,520.66) scale(0.9413,1.0000)" font-size="32.00" fill="#1a1a1a">547</text>
<text transform="translate(735.10,520.66) scale(0.9435,1.0000)" font-size="32.00" fill="#1a1a1a">548</text>
<text transform="translate(295.36,76.96) scale(1.1733,1.0000)" font-size="32.80" font-style="italic" fill="#1a1a1a">B</text>
<text transform="translate(382.46,76.96) scale(0.9402,1.0000)" font-size="32.00" fill="#1a1a1a">2.92</text>
<text transform="translate(438.48,76.96) scale(0.9625,1.0000)" font-size="32.80" fill="#1a1a1a">G</text>
<text transform="translate(338.05,266.66) scale(1.1039,1.0000)" font-size="39.00" font-style="italic" fill="#1a1a1a">a</text>
<text transform="translate(410.78,266.66) scale(0.9967,1.0000)" font-size="39.00" fill="#1a1a1a">0</text>
<text transform="translate(658.48,266.66) scale(1.0802,1.0000)" font-size="39.00" font-style="italic" fill="#1a1a1a">a</text>
<text transform="translate(731.06,266.66) scale(1.0087,1.0000)" font-size="39.00" fill="#1a1a1a">0</text>
<text transform="translate(268.98,332.76) scale(1.0409,1.0000)" font-size="30.90" fill="#1a1a1a">fit</text>
<text transform="translate(308.41,332.76) scale(1.0633,1.0000)" font-size="30.90" fill="#1a1a1a">of</text>
<text transform="translate(372.53,332.76) scale(1.2521,1.0000)" font-size="32.80" font-style="italic" fill="#1a1a1a">B</text>
<text transform="translate(407.93,332.76) scale(1.1166,1.0000)" font-size="30.90" fill="#1a1a1a">and</text>
<text transform="translate(470.22,332.76) scale(1.2784,1.0000)" font-size="32.80" font-style="italic" fill="#1a1a1a">B</text>
<text transform="translate(494.00,337.76) scale(1.0633,1.0000)" font-size="23.50" fill="#1a1a1a">0</text>
<text transform="translate(296.23,384.36) scale(1.2521,1.0000)" font-size="32.80" font-style="italic" fill="#1a1a1a">B</text>
<text transform="translate(391.53,384.36) scale(1.1227,1.0000)" font-size="32.00" fill="#1a1a1a">3</text>
<text transform="translate(413.58,384.36) scale(1.0328,1.0000)" font-size="32.80" fill="#1a1a1a">G</text>
<text transform="translate(448.11,384.36) scale(1.1375,1.0000)" font-size="30.90" fill="#1a1a1a">and</text>
<text transform="translate(270.03,417.36) scale(1.2521,1.0000)" font-size="32.80" font-style="italic" fill="#1a1a1a">B</text>
<text transform="translate(293.30,422.36) scale(1.0633,1.0000)" font-size="23.50" fill="#1a1a1a">0</text>
<text transform="translate(348.49,417.36) scale(1.0067,1.0000)" font-size="32.00" fill="#1a1a1a">546.8</text>
<text transform="translate(426.27,417.36) scale(1.0469,1.0000)" font-size="32.80" fill="#1a1a1a">G</text>
<text transform="translate(267.73,464.46) scale(1.1423,1.0000)" font-size="30.90" fill="#1a1a1a">expt.</text>
<text transform="translate(350.14,464.46) scale(1.2029,1.0000)" font-size="30.90" fill="#1a1a1a">data</text>
<text transform="translate(615.84,415.66) scale(1.2153,1.0000)" font-size="32.80" font-style="italic" fill="#1a1a1a">B</text>
<text transform="translate(638.40,420.86) scale(1.0633,1.0000)" font-size="23.50" fill="#1a1a1a">0</text>
<text transform="translate(688.78,415.66) scale(0.9295,1.0000)" font-size="32.00" fill="#1a1a1a">546.67</text>
<text transform="translate(774.86,415.66) scale(0.9719,1.0000)" font-size="32.80" fill="#1a1a1a">G</text>
<text transform="translate(443.66,562.56) scale(1.1680,1.0000)" font-size="32.80" font-style="italic" fill="#1a1a1a">B</text>
<text transform="translate(482.58,562.56) scale(0.9578,1.0000)" font-size="32.80" fill="#1a1a1a">G</text>
<text transform="translate(42.96,324.35) rotate(-90) scale(1.0880,1)" font-size="37.40" font-style="italic" fill="#1a1a1a">E</text>
<text transform="translate(42.96,278.05) rotate(-90) scale(0.9415,1)" font-size="36.00" font-style="italic" fill="#1a1a1a">h</text>
<text transform="translate(42.96,252.98) rotate(-90) scale(0.9678,1)" font-size="37.00" fill="#1a1a1a">kHz</text>
</g>
</svg>
</body></html>
